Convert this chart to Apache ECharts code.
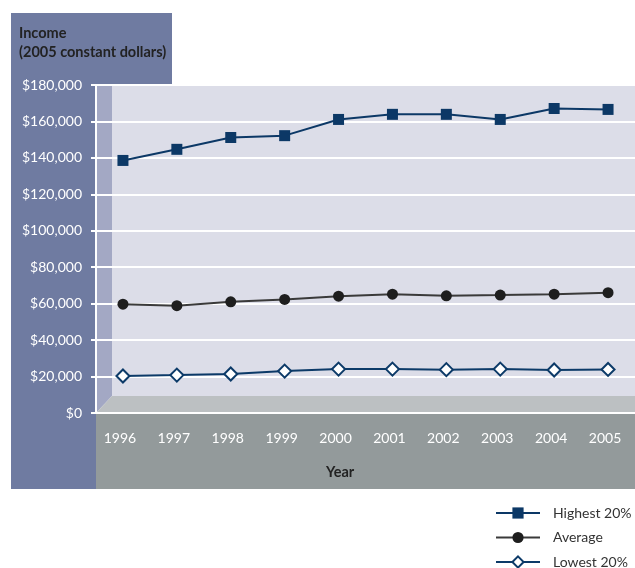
<!DOCTYPE html>
<html>
<head>
<meta charset="utf-8">
<script src="https://cdn.jsdelivr.net/npm/echarts@6/dist/echarts.min.js"></script>
<style>
  html, body { margin: 0; padding: 0; background: #fff; }
  #myChart { width: 635px; height: 568px; }
</style>
</head>
<body>
<div id="myChart"></div>
<script>
// data
var years = ['1996', '1997', '1998', '1999', '2000', '2001', '2002', '2003', '2004', '2005'];
var highest = [138600, 144700, 151200, 152200, 161100, 163900, 163900, 161100, 167100, 166600];
var average = [59700, 58900, 61000, 62300, 64100, 65200, 64300, 64700, 65200, 66000];
var lowest = [20300, 20800, 21400, 23000, 24100, 24100, 23800, 24100, 23600, 23900];
var seriesNames = ['Highest 20%', 'Average', 'Lowest 20%'];
var yMin = 0, yMax = 180000, yStep = 20000;

var font = 'Lato, "Open Sans", sans-serif';
var panel = '#6f7ba1';

function money(v) {
    return '$' + String(v).replace(/\B(?=(\d{3})+(?!\d))/g, ',');
}

function _initChart() {
    var myChart = echarts.init(document.getElementById('myChart'));
    var option = {
        backgroundColor: '#fff',
        animation: false,
        textStyle: {fontFamily: font},
        grid: {left: 96, top: 85, width: 543, height: 328, containLabel: false},
        graphic: [
            // left slate panel with header block
            {type: 'rect', z: -10, shape: {x: 11, y: 13, width: 85, height: 476}, style: {fill: panel}},
            {type: 'rect', z: -10, shape: {x: 11, y: 13, width: 161, height: 73}, style: {fill: panel}},
            // back wall
            {type: 'rect', z: -10, shape: {x: 112, y: 86, width: 523, height: 310}, style: {fill: '#dcdde8'}},
            // side wall
            {type: 'polygon', z: -10, shape: {points: [[96, 86], [112, 86], [112, 396], [96, 413]]}, style: {fill: '#a3a8c4'}},
            // floor
            {type: 'polygon', z: -10, shape: {points: [[96, 413], [112, 396], [635, 396], [635, 413]]}, style: {fill: '#bcc0c2'}},
            // grey band under the axis
            {type: 'rect', z: -10, shape: {x: 96, y: 413, width: 539, height: 76}, style: {fill: '#939a9b'}},
            {type: 'text', left: 19, top: 24, style: {
                text: 'Income\n(2005 constant dollars)', font: 'bold 14.5px ' + font,
                fill: '#222', lineHeight: 19
            }},
            {type: 'text', left: 326, top: 465, style: {
                text: 'Year', font: 'bold 14.5px ' + font, fill: '#222'
            }}
        ],
        legend: {
            data: seriesNames,
            orient: 'vertical',
            left: 495, top: 506, height: 80,
            itemWidth: 44, itemHeight: 14, itemGap: 10.5,
            padding: 0,
            textStyle: {fontSize: 14, lineHeight: 14, color: '#333', fontFamily: font, padding: [0, 0, 0, 8]}
        },
        xAxis: {
            type: 'category',
            data: years,
            boundaryGap: true,
            axisLine: {lineStyle: {color: '#fff', width: 2}},
            axisTick: {lineStyle: {color: '#fff', width: 2}, length: 6},
            axisLabel: {color: '#fff', fontSize: 14, margin: 18, fontFamily: font, padding: [0, 6, 0, 0]},
            splitLine: {show: false}
        },
        yAxis: {
            type: 'value',
            min: yMin, max: yMax, interval: yStep,
            axisLine: {show: true, lineStyle: {color: '#fff', width: 2}},
            axisTick: {show: true, length: 5, lineStyle: {color: '#fff', width: 2}},
            axisLabel: {color: '#fff', fontSize: 14, margin: 14, fontFamily: font, formatter: money},
            splitLine: {lineStyle: {color: '#fff', width: 2}}
        },
        series: [
            {
                name: seriesNames[0], type: 'line', data: highest,
                symbol: 'rect', symbolSize: 11,
                lineStyle: {color: '#0c3866', width: 2},
                itemStyle: {color: '#0c3866'}
            },
            {
                name: seriesNames[1], type: 'line', data: average,
                symbol: 'circle', symbolSize: 11,
                lineStyle: {color: '#3a3a3a', width: 2},
                itemStyle: {color: '#1e1e1e'}
            },
            {
                name: seriesNames[2], type: 'line', data: lowest,
                symbol: 'diamond', symbolSize: 13,
                lineStyle: {color: '#0c3a68', width: 2},
                itemStyle: {color: '#fff', borderColor: '#0c3a68', borderWidth: 2}
            }
        ]
    };
    myChart.setOption(option);
}

_initChart();
</script>
</body>
</html>
